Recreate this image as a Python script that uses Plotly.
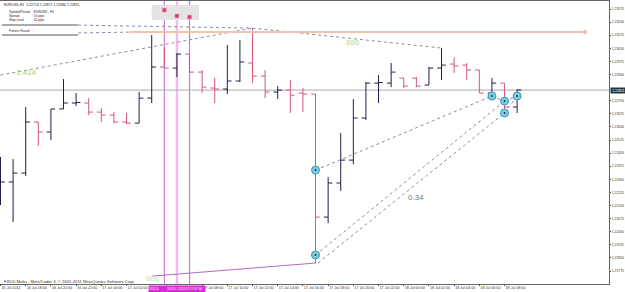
import plotly.graph_objects as go

# ---------------- data (EURUSD H1) ----------------
bar_index = list(range(42))
opens = [1.22268, 1.22285, 1.22336, 1.22628, 1.22571, 1.22703, 1.22737, 1.22737, 1.22685, 1.22668,
         1.22628, 1.22622, 1.22765, 1.22943, 1.22937, 1.23017, 1.22914, 1.22823, 1.22817, 1.22863,
         1.22966, 1.22891, 1.22800, 1.22811, 1.22794, 1.22788, 1.22084, 1.22279, 1.22410, 1.22651,
         1.22851, 1.22851, 1.22880, 1.22880, 1.22840, 1.22937, 1.22960, 1.22954, 1.22926, 1.22794,
         1.22851, 1.22714]
highs = [1.22428, 1.22416, 1.22714, 1.22628, 1.22703, 1.22874, 1.22794, 1.22765, 1.22708, 1.22685,
         1.22680, 1.22800, 1.23126, 1.23057, 1.23023, 1.23017, 1.22926, 1.22880, 1.23069, 1.23098,
         1.23166, 1.22926, 1.22834, 1.22868, 1.22823, 1.22788, 1.22313, 1.22565, 1.22760, 1.22857,
         1.22897, 1.22966, 1.22880, 1.22886, 1.22943, 1.23052, 1.23000, 1.22966, 1.22926, 1.22880,
         1.22851, 1.22817]
lows = [1.22153, 1.22056, 1.22319, 1.22491, 1.22525, 1.22703, 1.22720, 1.22668, 1.22628, 1.22622,
        1.22617, 1.22622, 1.22737, 1.22937, 1.22886, 1.22914, 1.22794, 1.22737, 1.22788, 1.22857,
        1.22851, 1.22765, 1.22760, 1.22680, 1.22685, 1.21821, 1.22050, 1.22233, 1.22387, 1.22640,
        1.22737, 1.22828, 1.22823, 1.22828, 1.22840, 1.22868, 1.22909, 1.22868, 1.22794, 1.22760,
        1.22668, 1.22680]
closes = [1.22285, 1.22336, 1.22628, 1.22571, 1.22703, 1.22737, 1.22740, 1.22685, 1.22668, 1.22628,
          1.22622, 1.22765, 1.22943, 1.22937, 1.23017, 1.22914, 1.22828, 1.22817, 1.22863, 1.22972,
          1.22891, 1.22800, 1.22811, 1.22782, 1.22788, 1.22084, 1.22279, 1.22410, 1.22651, 1.22851,
          1.22854, 1.22914, 1.22834, 1.22834, 1.22937, 1.22954, 1.22949, 1.22926, 1.22794, 1.22851,
          1.22714, 1.22811]

# time labels (the 04:00 and 06:00 labels are hidden under the vertical-line labels)
time_tick_index = [0, 2, 4, 6, 8, 10, 16, 18, 20, 22, 24, 26, 28, 30, 32, 34, 36, 38, 40]
time_tick_labels = ["16 Jul 2012", "16 Jul 18:00", "16 Jul 20:00", "16 Jul 22:00", "17 Jul 00:00",
                    "17 Jul 02:00", "17 Jul 08:00", "17 Jul 10:00",
                    "17 Jul 12:00", "17 Jul 14:00", "17 Jul 16:00", "17 Jul 18:00", "17 Jul 20:00",
                    "17 Jul 22:00", "18 Jul 00:00", "18 Jul 02:00", "18 Jul 04:00", "18 Jul 06:00",
                    "18 Jul 08:00"]
# price scale labels (1.22825 is hidden under the bid price box)
price_ticks = [1.23275, 1.23200, 1.23125, 1.23050, 1.22975, 1.22900, 1.22750, 1.22675,
               1.22600, 1.22525, 1.22450, 1.22375, 1.22300, 1.22225, 1.22150, 1.22075, 1.22000,
               1.21925, 1.21850, 1.21775]
price_tick_labels = ["%.5f" % v for v in price_ticks]

bid_price = 1.22811
header_text = "EURUSD,H1  1.22714 1.22817 1.22680 1.22811"

# objects drawn on the chart (bar index, price)
vline_bars = [13, 14, 15]
vline_labels = ["2012.0", "2012.0", "2012.07.17 07:00"]
marker_prices = [1.23269, 1.23235, 1.23229]
dotted_lines = [
    ([0.0, 20.0], [1.22897, 1.23166]),
    ([6.15, 20.0], [1.23183, 1.23166]),
    ([6.15, 10.3], [1.23138, 1.23143]),
    ([20.0, 35.0], [1.23166, 1.23052]),
    ([25.0, 39.0], [1.22353, 1.22777]),
    ([25.0, 40.0], [1.21867, 1.22748]),
    ([25.2, 40.0], [1.21821, 1.22680]),
    ([39.0, 40.0], [1.22777, 1.22748]),
    ([40.0, 41.0], [1.22748, 1.22777]),
    ([40.0, 41.0], [1.22680, 1.22777]),
]
solid_line = ([12.0, 25.0], [1.21746, 1.21821])
orange_line = ([10.28, 46.39], [1.23143, 1.23143])
circle_x = [25, 25, 39, 40, 40, 41]
circle_y = [1.22353, 1.21867, 1.22777, 1.22748, 1.22680, 1.22777]
ratio_labels = [("1.414", 2.1, 1.22909, "#a8d25a"), ("886", 28.0, 1.23086, "#b6dc8c"),
                ("0.34", 33.0, 1.22199, "#7a7a7a"), ("886", 12.1, 1.21730, "#c6e6a6")]

FONT = "Liberation Sans"
W, H = 625, 292
PLOT_R, PLOT_T, PLOT_B = 609, 1, 284


def py(y):
    return (PLOT_B - y) / (PLOT_B - PLOT_T)


def px(x):
    return x / PLOT_R


fig = go.Figure()

fig.add_trace(go.Ohlc(
    x=bar_index, open=opens, high=highs, low=lows, close=closes,
    increasing=dict(line=dict(color="#1e1e4a", width=1)),
    decreasing=dict(line=dict(color="#d4577a", width=1)),
    tickwidth=0.34, hoverinfo="skip", showlegend=False,
))

for xs, ys in dotted_lines:
    fig.add_trace(go.Scatter(x=xs, y=ys, mode="lines",
                             line=dict(color="#8c8aa6", width=1, dash="dot"),
                             hoverinfo="skip", showlegend=False))

fig.add_trace(go.Scatter(x=solid_line[0], y=solid_line[1], mode="lines",
                         line=dict(color="#b06cc4", width=1), hoverinfo="skip", showlegend=False))

fig.add_trace(go.Scatter(x=orange_line[0], y=orange_line[1], mode="lines",
                         line=dict(color="#f2c3aa", width=2), hoverinfo="skip", showlegend=False))
fig.add_trace(go.Scatter(x=[orange_line[0][1]], y=[orange_line[1][1]], mode="markers",
                         marker=dict(color="#f0b89c", size=4), hoverinfo="skip", showlegend=False))

fig.add_trace(go.Scatter(x=circle_x, y=circle_y, mode="markers",
                         marker=dict(color="#7fcde0", size=8, line=dict(color="#3f95b5", width=1)),
                         hoverinfo="skip", showlegend=False))
fig.add_trace(go.Scatter(x=circle_x, y=circle_y, mode="markers",
                         marker=dict(color="#1c2c70", size=2),
                         hoverinfo="skip", showlegend=False))

fig.add_trace(go.Scatter(x=vline_bars, y=marker_prices, mode="markers",
                         marker=dict(color="#d0407a", size=4, symbol="square",
                                     line=dict(color="#f0a0c0", width=0.5)),
                         hoverinfo="skip", showlegend=False))

shapes = []
shapes.append(dict(type="rect", xref="x", yref="y", x0=12.0, x1=15.75, y0=1.23212, y1=1.23298,
                   fillcolor="#e4e4e4", line=dict(width=0), layer="below"))
vcols = ["#cb7ada", "#f5b8ef", "#c67ad6"]
vwid = [1.2, 2.4, 1.2]
for b, c, w in zip(vline_bars, vcols, vwid):
    shapes.append(dict(type="line", xref="x", yref="paper", x0=b, x1=b, y0=0, y1=1,
                       line=dict(color=c, width=w), layer="below"))
shapes.append(dict(type="line", xref="paper", yref="y", x0=0, x1=1, y0=bid_price, y1=bid_price,
                   line=dict(color="#a9a9a9", width=1), layer="below"))
for yy in (25, 35):
    shapes.append(dict(type="line", xref="paper", yref="paper", x0=px(2), x1=px(78),
                       y0=py(yy), y1=py(yy), line=dict(color="#555555", width=1)))

annotations = []
annotations.append(dict(text=header_text, xref="paper", yref="paper", x=px(2), y=py(5),
                        xanchor="left", yanchor="middle", showarrow=False,
                        font=dict(family=FONT, size=3.5, color="#222222")))
info_rows = [("Symbol/Period", ": EURUSD - H1", 12), ("Spread", ": 10 pips", 16),
             ("Stop Level", ": 20 pips", 20), ("Pattern Found", ":", 31)]
for lab, val, yy in info_rows:
    annotations.append(dict(text=lab, xref="paper", yref="paper", x=px(7), y=py(yy),
                            xanchor="left", yanchor="middle", showarrow=False,
                            font=dict(family=FONT, size=3.2, color="#222222")))
    annotations.append(dict(text=val, xref="paper", yref="paper", x=px(30), y=py(yy),
                            xanchor="left", yanchor="middle", showarrow=False,
                            font=dict(family=FONT, size=3.2, color="#222222")))
annotations.append(dict(text="FXDD Malta - MetaTrader 4, © 2001-2011 MetaQuotes Software Corp.",
                        xref="paper", yref="paper", x=px(2), y=py(281),
                        xanchor="left", yanchor="middle", showarrow=False,
                        font=dict(family=FONT, size=4.2, color="#333333")))
for txt, xi, yp, col in ratio_labels:
    annotations.append(dict(text=txt, xref="x", yref="y", x=xi, y=yp, showarrow=False,
                            xanchor="center", yanchor="middle",
                            font=dict(family=FONT, size=8, color=col)))
vlab_shift = [-16, -11, -13]
vlab_width = [18, 11, 27]
for b, lab, sh, wd in zip(vline_bars, vline_labels, vlab_shift, vlab_width):
    annotations.append(dict(text=lab, xref="x", yref="paper", x=b, y=0, yshift=-1,
                            xshift=sh, xanchor="left", yanchor="top", showarrow=False,
                            bgcolor="#dd2ad8", width=wd, height=6, borderpad=0, align="left",
                            font=dict(family=FONT, size=3.1, color="#ffffff")))
annotations.append(dict(text="%.5f" % bid_price, xref="paper", yref="y", x=1, y=bid_price,
                        xanchor="left", yanchor="middle", xshift=1, showarrow=False,
                        bgcolor="#1e3a48", width=15, height=5, borderpad=0,
                        font=dict(family=FONT, size=3.4, color="#ffffff")))

fig.update_layout(
    width=W, height=H,
    margin=dict(l=0, r=W - PLOT_R, t=PLOT_T, b=H - PLOT_B, pad=0),
    paper_bgcolor="#ffffff", plot_bgcolor="#ffffff",
    shapes=shapes, annotations=annotations, showlegend=False,
    xaxis=dict(range=[-0.04, 48.29], tickmode="array", tickvals=time_tick_index,
               ticktext=time_tick_labels, ticklabelposition="outside right", tickangle=0,
               ticks="outside", ticklen=1, tickcolor="#444444",
               tickfont=dict(family=FONT, size=3.7, color="#333333"),
               showgrid=False, zeroline=False, showline=True, linecolor="#666666",
               linewidth=1, mirror=True, rangeslider=dict(visible=False), automargin=False),
    yaxis=dict(range=[1.21701, 1.23321], side="right", tickmode="array",
               tickvals=price_ticks, ticktext=price_tick_labels,
               ticks="outside", ticklen=1, tickcolor="#444444",
               tickfont=dict(family=FONT, size=3.4, color="#333333"),
               showgrid=False, zeroline=False, showline=True, linecolor="#666666",
               linewidth=1, mirror=True, automargin=False),
)

fig.write_html("out.html")
